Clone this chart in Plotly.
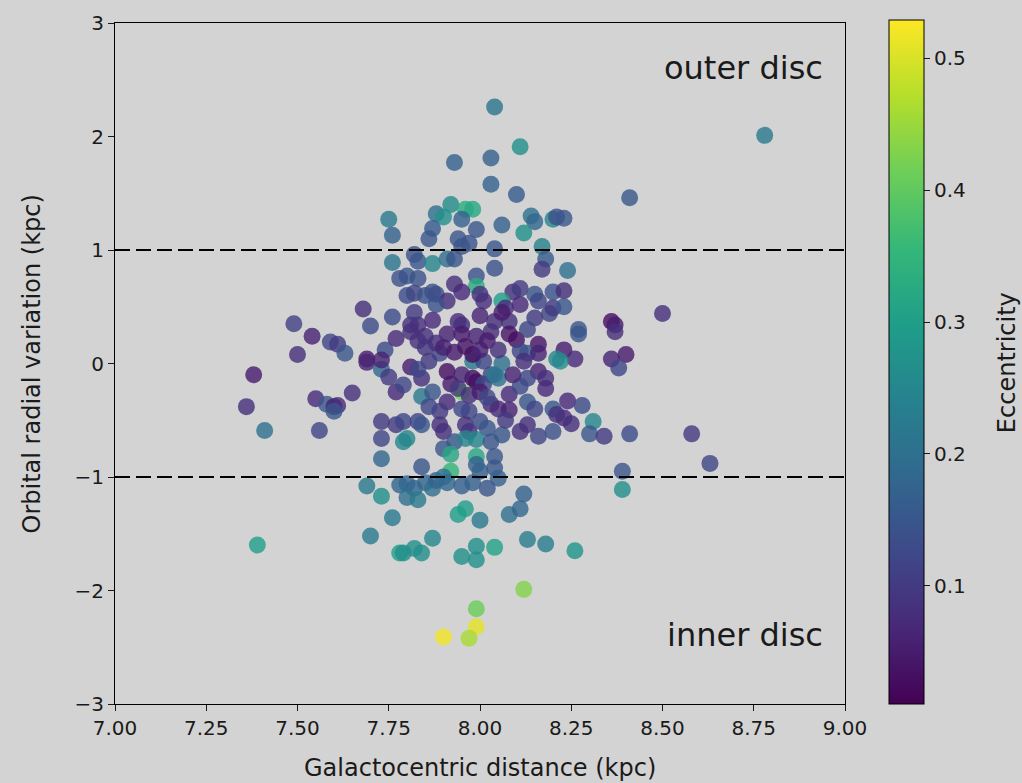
import plotly.graph_objects as go

# Galactocentric distance (kpc)
r_gc = [
    8.04, 8.11, 7.93, 8.03, 8.03, 8.10, 7.92, 7.96, 7.98, 7.88, 7.90, 7.95, 7.99, 8.06, 8.14, 8.15,
    8.20, 8.21, 8.12, 7.87, 7.86, 7.94, 7.97, 7.95, 8.04, 8.17, 8.18, 7.82, 7.83, 7.87, 7.91, 7.93,
    8.04, 8.17, 7.80, 7.83, 7.99, 7.99, 8.09, 8.11, 7.87, 7.88, 7.93, 7.95, 8.15, 8.16, 8.20, 7.91,
    8.00, 8.01, 8.06, 8.07, 8.11, 7.81, 7.83, 7.94, 7.95, 8.04, 8.08, 8.19, 8.20, 7.88, 7.75, 7.76,
    7.76, 7.68, 7.76, 7.70, 7.49, 7.54, 8.41, 8.23, 8.24, 8.23, 8.23, 8.50, 8.36, 8.37, 8.27, 8.78,
    7.50, 7.59, 7.61, 7.63, 7.69, 7.69, 7.73, 7.74, 7.77, 7.77, 7.38, 7.36, 7.55, 7.58, 7.60, 7.61,
    7.60, 7.65, 7.41, 7.56, 7.73, 7.77, 7.73, 7.73, 7.69, 7.73, 7.78, 7.79, 7.39, 7.70, 7.76, 7.78,
    7.96, 7.94, 8.00, 8.08, 8.11, 7.87, 7.79, 7.82, 7.84, 7.95, 7.99, 7.99, 8.04, 8.13, 8.18, 8.12,
    7.99, 7.99, 7.97, 7.90, 8.26, 8.27, 8.37, 8.23, 8.26, 8.22, 8.36, 8.40, 8.38, 8.24, 8.28, 8.23,
    8.25, 8.31, 8.30, 8.34, 8.41, 8.58, 8.63, 8.39, 8.39, 7.81, 7.85, 7.91, 7.95, 7.99, 8.03, 8.08,
    8.10, 8.16, 8.11, 8.13, 8.16, 8.21, 7.81, 7.89, 7.91, 7.98, 8.01, 8.06, 7.99, 7.98, 7.95, 7.84,
    7.79, 7.95, 8.01, 8.03, 8.04, 8.05, 8.08, 8.16, 8.18, 8.18, 8.13, 8.11, 7.84, 7.87, 7.91, 7.95,
    7.97, 8.03, 8.05, 8.08, 8.13, 8.15, 8.20, 8.21, 7.79, 7.83, 7.84, 7.89, 7.90, 7.96, 7.97, 8.00,
    8.02, 8.06, 8.11, 8.13, 8.16, 8.20, 7.80, 7.93, 7.96, 7.99, 8.03, 7.90, 7.92, 7.99, 8.04, 7.92,
    7.84, 7.80, 7.82, 7.95, 7.99, 8.00, 8.04, 8.05, 8.12, 7.80, 7.83, 7.85, 7.87, 7.88, 7.90, 7.91,
    7.98, 8.02, 7.78, 7.80, 7.82, 7.85, 7.73, 7.75, 7.82, 7.83, 7.85, 7.88, 7.90, 7.93, 7.96, 7.98,
    8.00, 8.02, 8.05, 7.92, 7.94, 7.97, 8.00, 8.02, 7.89, 7.86, 8.07, 8.09, 8.12, 7.86, 7.83, 7.87,
    8.00, 8.06, 8.15, 8.13,
]

# Orbital radial variation (kpc)
dr_orb = [
    2.26, 1.91, 1.77, 1.81, 1.58, 1.49, 1.40, 1.36, 1.36, 1.32, 1.29, 1.27, 1.18, 1.22, 1.30, 1.25,
    1.27, 1.29, 1.15, 1.19, 1.10, 1.10, 1.06, 1.03, 1.01, 1.03, 0.92, 0.96, 0.90, 0.88, 0.92, 0.92,
    0.84, 0.83, 0.77, 0.75, 0.77, 0.68, 0.63, 0.66, 0.63, 0.61, 0.70, 0.63, 0.61, 0.55, 0.63, 0.55,
    0.61, 0.55, 0.55, 0.49, 0.52, 0.34, 0.34, 0.37, 0.34, 0.37, 0.37, 0.44, 0.49, 0.52, 1.27, 1.13,
    0.89, 0.48, 0.41, 0.33, 0.35, 0.24, 1.46, 1.28, 0.82, 0.64, 0.50, 0.44, 0.37, 0.34, 0.30, 2.01,
    0.08, 0.19, 0.17, 0.09, 0.04, 0.01, -0.05, 0.12, 0.22, -0.25, -0.10, -0.38, -0.31, -0.36, -0.38, -0.37,
    -0.42, -0.26, -0.59, -0.59, -0.51, -0.54, -0.66, -0.84, -1.08, -1.17, -1.07, -0.69, -1.60, -1.52, -1.36, -1.67,
    -1.28, -1.33, -1.38, -1.33, -1.28, -1.54, -1.67, -1.63, -1.67, -1.70, -1.73, -1.61, -1.62, -1.55, -1.59, -1.99,
    -2.16, -2.32, -2.42, -2.41, -1.65, 0.26, 0.28, 0.12, 0.04, 0.02, 0.04, 0.08, -0.04, -0.33, -0.37, -0.48,
    -0.53, -0.51, -0.62, -0.64, -0.62, -0.62, -0.88, -0.95, -1.11, 0.28, 0.24, 0.26, 0.26, 0.24, 0.28, 0.26,
    0.21, 0.17, 0.11, 0.09, 0.09, 0.04, -0.03, 0.09, -0.07, 0.02, 0.02, 0.00, -0.16, -0.13, -0.10, -0.13,
    -0.19, -0.25, -0.18, -0.10, -0.10, -0.13, -0.27, -0.07, -0.13, -0.22, -0.13, -0.20, -0.29, -0.25, -0.34, -0.40,
    -0.42, -0.36, -0.40, -0.41, -0.34, -0.40, -0.40, -0.45, -0.51, -0.51, -0.54, -0.54, -0.60, -0.54, -0.60, -0.51,
    -0.57, -0.63, -0.60, -0.54, -0.64, -0.60, -0.66, -0.69, -0.66, -0.67, -0.69, -0.75, -0.80, -0.82, -0.82, -0.95,
    -0.91, -1.06, -1.10, -1.08, -0.89, -0.95, -0.92, -1.01, -1.15, -1.18, -1.20, -1.05, -1.10, -1.03, -1.00, -1.05,
    -1.05, -1.10, 0.75, 0.60, 0.62, 0.60, 0.03, -0.12, 0.45, 0.20, 0.14, 0.18, 0.14, 0.10, 0.15, 0.08,
    0.12, 0.20, 0.12, -0.18, -0.22, -0.28, -0.25, -0.30, -0.42, -0.38, -0.50, -0.10, 0.02, 0.02, -0.05, 0.38,
    0.42, 0.45, 0.40, 0.30,
]

# Orbital eccentricity
ecc = [
    0.21, 0.27, 0.17, 0.17, 0.17, 0.16, 0.26, 0.33, 0.32, 0.20, 0.27, 0.17, 0.15, 0.17, 0.20, 0.18,
    0.25, 0.14, 0.27, 0.16, 0.15, 0.15, 0.14, 0.15, 0.15, 0.24, 0.16, 0.14, 0.15, 0.25, 0.20, 0.15,
    0.14, 0.10, 0.15, 0.14, 0.14, 0.33, 0.08, 0.10, 0.14, 0.13, 0.08, 0.07, 0.15, 0.12, 0.14, 0.08,
    0.08, 0.08, 0.30, 0.07, 0.07, 0.08, 0.08, 0.07, 0.08, 0.08, 0.08, 0.12, 0.10, 0.14, 0.22, 0.17,
    0.21, 0.08, 0.13, 0.13, 0.11, 0.06, 0.15, 0.15, 0.20, 0.08, 0.15, 0.08, 0.03, 0.05, 0.15, 0.22,
    0.08, 0.12, 0.10, 0.15, 0.05, 0.06, 0.18, 0.13, 0.07, 0.07, 0.05, 0.08, 0.07, 0.15, 0.06, 0.07,
    0.15, 0.08, 0.20, 0.12, 0.10, 0.10, 0.12, 0.18, 0.22, 0.27, 0.18, 0.25, 0.30, 0.22, 0.22, 0.30,
    0.30, 0.30, 0.22, 0.20, 0.18, 0.25, 0.27, 0.27, 0.27, 0.27, 0.27, 0.27, 0.31, 0.23, 0.23, 0.43,
    0.41, 0.51, 0.46, 0.52, 0.28, 0.15, 0.08, 0.05, 0.07, 0.27, 0.06, 0.05, 0.12, 0.07, 0.13, 0.07,
    0.08, 0.25, 0.15, 0.10, 0.13, 0.10, 0.12, 0.15, 0.27, 0.08, 0.08, 0.06, 0.05, 0.06, 0.08, 0.04,
    0.03, 0.04, 0.12, 0.15, 0.06, 0.25, 0.05, 0.12, 0.03, 0.22, 0.12, 0.20, 0.03, 0.03, 0.06, 0.08,
    0.12, 0.42, 0.12, 0.12, 0.22, 0.20, 0.07, 0.06, 0.08, 0.07, 0.12, 0.13, 0.22, 0.15, 0.07, 0.12,
    0.12, 0.07, 0.07, 0.06, 0.15, 0.12, 0.15, 0.08, 0.12, 0.12, 0.15, 0.08, 0.08, 0.08, 0.08, 0.13,
    0.15, 0.15, 0.08, 0.08, 0.12, 0.14, 0.25, 0.15, 0.25, 0.25, 0.15, 0.15, 0.32, 0.32, 0.15, 0.35,
    0.15, 0.18, 0.18, 0.17, 0.17, 0.17, 0.15, 0.17, 0.17, 0.20, 0.22, 0.18, 0.20, 0.17, 0.20, 0.18,
    0.17, 0.15, 0.14, 0.13, 0.12, 0.14, 0.06, 0.10, 0.10, 0.08, 0.09, 0.08, 0.06, 0.05, 0.04, 0.03,
    0.06, 0.05, 0.08, 0.05, 0.10, 0.08, 0.05, 0.12, 0.10, 0.12, 0.10, 0.06, 0.08, 0.10, 0.12, 0.07,
    0.06, 0.05, 0.10, 0.12,
]

# Reference levels and tick positions
band_levels = [1, -1]
x_ticks = [7.00, 7.25, 7.50, 7.75, 8.00, 8.25, 8.50, 8.75, 9.00]
y_ticks = [-3, -2, -1, 0, 1, 2, 3]
cbar_ticks = [0.1, 0.2, 0.3, 0.4, 0.5]

FONT = "DejaVu Sans"
BG = "#d3d3d3"
INK = "#1a1a1a"
TICK_SIZE = 20
LABEL_SIZE = 24

fig = go.Figure()

fig.add_trace(go.Scatter(
    x=r_gc, y=dr_orb, mode="markers",
    marker=dict(
        size=17, color=ecc, colorscale="Viridis", cmin=0.0104, cmax=0.529,
        opacity=0.8, line=dict(width=0),
        colorbar=dict(
            thickness=35, thicknessmode="pixels",
            len=684, lenmode="pixels",
            x=1.060, xanchor="left", xpad=0,
            y=0, yanchor="bottom", ypad=0,
            outlinecolor="black", outlinewidth=1,
            tickvals=cbar_ticks, ticktext=[f"{v:.1f}" for v in cbar_ticks],
            ticks="outside", ticklen=6, tickcolor=INK,
            tickfont=dict(family=FONT, size=TICK_SIZE, color=INK),
        ),
    ),
    showlegend=False, hoverinfo="x+y",
))

for lvl in band_levels:
    fig.add_trace(go.Scatter(
        x=[7.0, 9.0], y=[lvl, lvl], mode="lines",
        line=dict(color="black", width=2.2, dash="15px,6px"),
        showlegend=False, hoverinfo="skip",
    ))

# Region labels
fig.add_annotation(x=8.945, y=2.60, xref="x", yref="y", text="outer disc",
                   showarrow=False, xanchor="right", yanchor="middle",
                   font=dict(family=FONT, size=32, color=INK))
fig.add_annotation(x=8.945, y=-2.39, xref="x", yref="y", text="inner disc",
                   showarrow=False, xanchor="right", yanchor="middle",
                   font=dict(family=FONT, size=32, color=INK))

# Axis and colour-bar titles
fig.add_annotation(x=0.5, y=-0.094, xref="paper", yref="paper", text="Galactocentric distance (kpc)",
                   showarrow=False, xanchor="center", yanchor="middle",
                   font=dict(family=FONT, size=LABEL_SIZE, color=INK))
fig.add_annotation(x=-0.1137, y=0.5, xref="paper", yref="paper", text="Orbital radial variation (kpc)",
                   showarrow=False, xanchor="center", yanchor="middle", textangle=-90,
                   font=dict(family=FONT, size=LABEL_SIZE, color=INK))
fig.add_annotation(x=1.2219, y=0.502, xref="paper", yref="paper", text="Eccentricity",
                   showarrow=False, xanchor="center", yanchor="middle", textangle=-90,
                   font=dict(family=FONT, size=LABEL_SIZE, color=INK))

axis_common = dict(
    showgrid=False, zeroline=False, showline=True, linecolor="black", linewidth=1,
    mirror=True, ticks="outside", ticklen=6, tickcolor=INK,
    tickfont=dict(family=FONT, size=TICK_SIZE, color=INK),
)

fig.update_xaxes(range=[7.0, 9.0], tickvals=x_ticks, ticktext=[f"{v:.2f}" for v in x_ticks],
                 **axis_common)
fig.update_yaxes(range=[-3, 3], tickvals=y_ticks,
                 ticktext=[("\u2212" + str(-v)) if v < 0 else str(v) for v in y_ticks],
                 **axis_common)

fig.update_layout(
    width=1022, height=783,
    margin=dict(l=115, r=177, t=23, b=79),
    paper_bgcolor=BG, plot_bgcolor=BG,
    font=dict(family=FONT, color=INK),
)

fig.write_html("out.html")
